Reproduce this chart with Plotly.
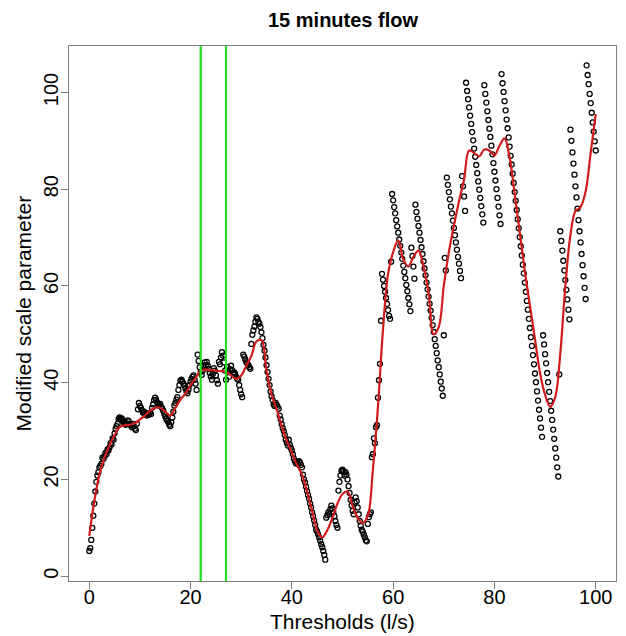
import numpy as np
import plotly.graph_objects as go

# Thresholds (l/s): regular grid of thresholds examined
thresholds = np.round(np.arange(0, 100.0001, 0.2), 1)

# Modified scale parameter at each threshold
modified_scale = [
    5.2, 5.8, 7.5, 10, 12.5, 15, 17.5, 19.5, 20.8, 21.5, 22.5, 22.8, 23.2, 24.5, 24.2, 24.8, 25.5, 25.2, 26.2, 26, 26.6, 27.5, 27.2, 28.5, 28.2,
    29.5, 30.5, 31, 31.5, 32.5, 32.8, 32.5, 32.6, 32.2, 31.8, 31.5, 31.3, 31.6, 32.2, 32, 31.5, 31.2, 30.8, 31.5, 31, 30.5, 30.2, 31.5, 34.5, 35.8,
    35.2, 34.8, 34.3, 33.8, 34, 33.6, 33.4, 33.2, 33.6, 33.4, 33.8, 33.5, 34.8, 35.5, 36.4, 36.9, 36.5, 35.9, 35.6, 35.3, 35.6, 35, 34.7, 34.2, 33.6,
    33, 32.5, 32.2, 31.8, 31.3, 31, 31.8, 32.8, 34, 35.3, 35.8, 36.5, 37, 38.5, 39.5, 40.4, 40.6, 40.2, 39.8, 39.4, 38.8, 38.2, 37.8, 38.6, 39.5,
    40.2, 40.8, 41.2, 41.5, 40.6, 39.8, 38.5, 45.8, 44.5, 43.2, 42.2, 41.6, 42.5, 43.5, 44.2, 43.6, 44.3, 43.5, 42.8, 42, 41.3, 40.6, 41.8, 43, 42.5,
    41.5, 40.5, 39.8, 44.3, 43.8, 45.2, 46.3, 45.6, 44.2, 42.5, 40.6, 43.2, 42.5, 41.2, 42.8, 43.5, 42.6, 41.8, 42.1, 41.8, 41.2, 40.8, 40.6, 39.5, 38.5,
    37.6, 37, 45.8, 45.4, 44.8, 44.2, 44, 43.6, 43.2, 42.9, 48, 49.9, 50.8, 51.6, 52.6, 53.5, 53.2, 52.6, 52.2, 51.5, 50.4, 49.2, 47.8, 46.6, 45.2,
    43.6, 42.2, 40.8, 39.5, 38.2, 37.2, 36.4, 35.5, 35.2, 35.8, 35.4, 35, 34.6, 33.2, 32.4, 31.4, 30.6, 30, 29.2, 28.2, 27.6, 27, 28.2, 27.2, 26.5,
    26, 25.2, 24.3, 23.8, 23.3, 23.6, 23.2, 23.8, 23.5, 23, 22.5, 21, 20, 19.4, 18.5, 17.6, 16.8, 16, 15, 14.2, 13.2, 12.4, 11.5, 10.6, 9.6,
    9.2, 8.6, 8, 7.3, 6.6, 6, 5.2, 4.4, 3.4, 12.1, 12.6, 13.2, 12.8, 13.8, 14.6, 14, 13.2, 12.4, 11.4, 10.6, 10, 17.7, 19.5, 20.8, 21.8,
    22, 21.6, 20.8, 21.5, 21, 20, 18.6, 17.2, 15.8, 14.6, 13.5, 12.8, 15.2, 16.3, 15.5, 14.2, 12.8, 11.4, 10.4, 9.6, 9.2, 8.6, 8, 7.4, 7.2,
    10.8, 12.2, 12.8, 13.2, 24.6, 25.2, 28.5, 27.5, 30.8, 31.2, 36.9, 40.5, 43.9, 52.8, 62.5, 61.3, 60, 58.8, 57.5, 56.3, 55, 53.8, 53.2, 65, 79,
    77.7, 76.3, 75, 73.6, 72.3, 71, 69.6, 68.3, 66.9, 65.6, 64.2, 62.9, 61.6, 60.2, 58.9, 57.5, 56.2, 54.8, 67.9, 66.2, 64, 61.5, 76.8, 75.3, 73.9,
    72.4, 71, 69.5, 68, 66.6, 65.1, 63.6, 62.2, 60.7, 59.3, 57.8, 56.3, 54.9, 53.4, 51.9, 50.5, 49, 47.6, 46.1, 44.6, 43.2, 41.7, 40.2, 38.8, 37.3,
    49.8, 65.8, 63.2, 82.4, 80.9, 79.4, 77.9, 76.4, 75, 73.5, 72, 70.5, 69, 67.5, 66, 64.6, 63.1, 61.6, 82.7, 80.6, 78.5, 75.5, 102, 100.3, 98.6,
    96.9, 95.2, 93.5, 91.8, 90.1, 88.4, 86.7, 85, 83.3, 81.6, 79.9, 78.2, 76.5, 74.8, 73.1, 101.5, 99.7, 97.9, 96.1, 94.3, 92.5, 90.8, 89, 87.2, 85.4,
    83.6, 81.8, 80, 78.2, 76.4, 74.6, 72.8, 103.8, 101.9, 100.1, 98.2, 96.3, 94.4, 92.6, 90.7, 88.8, 86.9, 85.1, 83.2, 81.3, 79.4, 77.6, 75.7, 73.8, 71.9,
    70.1, 68.2, 66.3, 64.4, 62.6, 60.7, 58.8, 56.9, 55.1, 53.2, 51.3, 49.4, 47.6, 45.7, 43.8, 41.9, 40.1, 38.2, 36.3, 34.4, 32.6, 30.7, 28.8, 49.8, 47.9,
    45.9, 44, 42, 40.1, 38.1, 36.2, 34.2, 32.3, 30.3, 28.4, 26.4, 24.5, 22.5, 20.6, 41.7, 71.3, 69.3, 67.3, 65.2, 63.2, 61.2, 59.2, 57.2, 55.1, 53.1,
    92.3, 90, 87.6, 85.3, 83, 80.6, 78.3, 76, 73.6, 71.3, 69, 66.6, 64.3, 62, 59.6, 57.3, 105.6, 103.6, 101.7, 99.7, 97.8, 95.8, 93.8, 91.9, 89.9,
    88,
]

# Smoothed curve (red), one value per unit threshold
smooth_x = list(range(0, 101))
smooth_y = [
    8.3, 15.5, 21, 24.5, 27, 29.2, 30.8, 31.2, 31.3, 31.6,
    32.4, 33.2, 34.2, 34.8, 34.8, 34, 33.2, 34.8, 36.5, 37.8,
    39.5, 41, 42.5, 42.7, 42.6, 42.5, 42.4, 42.2, 41.5, 40.8,
    41.5, 43.5, 45.5, 48.5, 48.8, 42.5, 37.5, 34.5, 31, 28,
    25.5, 23, 21, 17.5, 13.5, 9.5, 8, 9.5, 12, 15,
    17, 17.5, 14.5, 12, 11, 12.5, 22, 35, 51, 62.5,
    67, 69.4, 65.5, 64, 66, 67.3, 64, 58.5, 50, 51.5,
    60, 67, 72.5, 77.5, 82, 88, 87.5, 86.8, 88.2, 88,
    87, 89, 90.5, 86.5, 79, 71, 63, 56, 49, 42,
    37.5, 35, 37, 46, 60, 70.5, 75.5, 76.3, 79.5, 87.5,
    95.5,
]

# Selected threshold interval (green vertical lines)
green_thresholds = [22, 27]

x_ticks = [0, 20, 40, 60, 80, 100]
y_ticks = [0, 20, 40, 60, 80, 100]

FONT = "Liberation Sans, Arial, sans-serif"

fig = go.Figure()
fig.add_trace(go.Scatter(
    x=thresholds, y=modified_scale, mode="markers",
    marker=dict(symbol="circle-open", size=5, color="black", line=dict(width=1.3, color="black")),
    showlegend=False, hoverinfo="skip",
))
fig.add_trace(go.Scatter(
    x=smooth_x, y=smooth_y, mode="lines",
    line=dict(color="#d01c1c", width=2.2, shape="spline", smoothing=1.0),
    showlegend=False, hoverinfo="skip",
))
for g in green_thresholds:
    fig.add_vline(x=g, line=dict(color="#1fe01f", width=2.2), layer="above")

axis_common = dict(
    showgrid=False, zeroline=False, showline=True, mirror=True,
    linecolor="#7f7f7f", linewidth=1,
    ticks="outside", ticklen=7, tickcolor="#7f7f7f", tickwidth=1,
    tickfont=dict(family=FONT, size=20, color="black"),
)
fig.update_xaxes(range=[-4, 104], tickvals=x_ticks, ticklabelstandoff=-9, **axis_common)
fig.update_yaxes(range=[-1, 109.6], tickvals=y_ticks, tickangle=-90, ticklabelstandoff=-5, **axis_common)

fig.update_layout(
    width=626, height=636,
    margin=dict(l=69, r=10, t=46, b=55, autoexpand=False),
    paper_bgcolor="white", plot_bgcolor="white",
    font=dict(family=FONT, size=20, color="black"),
    annotations=[
        dict(text="<b>15 minutes flow</b>", xref="paper", yref="paper", x=0.5, y=1,
             yanchor="middle", xanchor="center", yshift=26, showarrow=False,
             font=dict(family=FONT, size=20, color="black")),
        dict(text="Thresholds (l/s)", xref="paper", yref="paper", x=0.5, y=0,
             yanchor="middle", xanchor="center", yshift=-40, showarrow=False,
             font=dict(family=FONT, size=21, color="black")),
        dict(text="Modified scale parameter", xref="paper", yref="paper", x=0, y=0.5,
             xanchor="center", yanchor="middle", xshift=-46, textangle=-90, showarrow=False,
             font=dict(family=FONT, size=21, color="black")),
    ],
)

fig.write_html(
    "out.html",
    config={"displayModeBar": False},
    post_script="document.body.style.margin='0';document.body.style.overflow='hidden';",
)
